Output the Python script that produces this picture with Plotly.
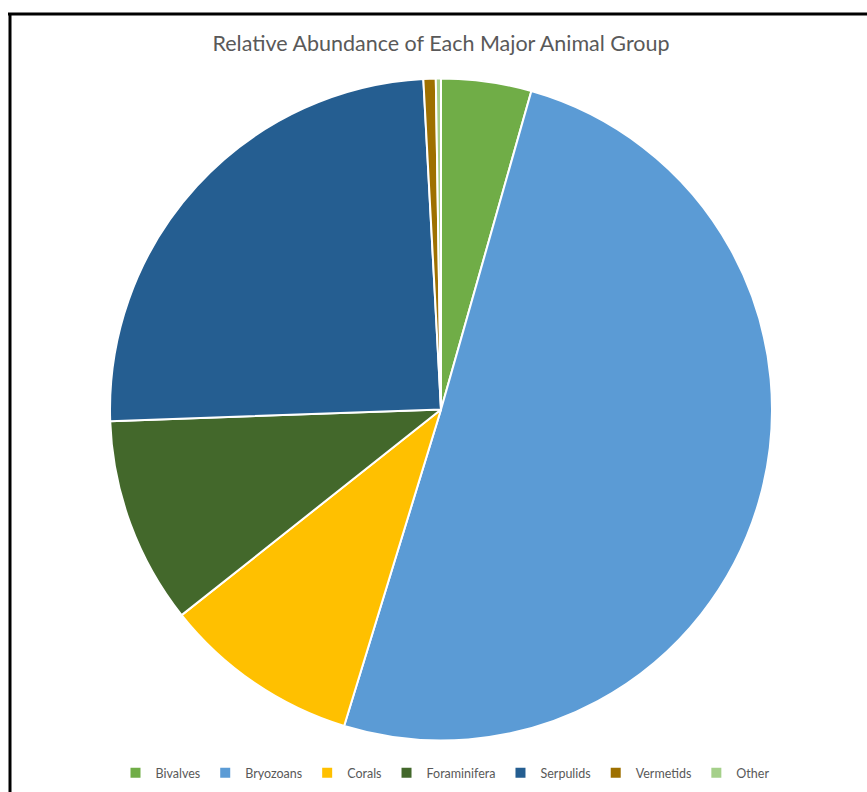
import plotly.graph_objects as go

# Relative abundance (%) of each major animal group
groups = ["Bivalves", "Bryozoans", "Corals", "Foraminifera", "Serpulids", "Vermetids", "Other"]
abundance = [4.4, 50.3, 9.6, 10.1, 24.7, 0.6, 0.25]
colors = ["#70AD47", "#5B9BD5", "#FFC000", "#43682B", "#255E91", "#9E7000", "#A5D08A"]

W, H = 867, 792

fig = go.Figure(
    go.Pie(
        labels=groups,
        values=abundance,
        sort=False,
        direction="clockwise",
        rotation=0,
        marker=dict(colors=colors, line=dict(color="white", width=2)),
        textinfo="none",
        hoverinfo="label+percent",
        domain=dict(x=[110 / W, 772 / W], y=[1 - 741 / H, 1 - 78 / H]),
    )
)

fig.update_layout(
    width=W,
    height=H,
    margin=dict(l=0, r=0, t=0, b=0),
    paper_bgcolor="white",
    plot_bgcolor="white",
    font=dict(family="Lato, 'Open Sans', sans-serif", color="#595959"),
    title=dict(
        text="Relative Abundance of Each Major Animal Group",
        x=441 / W,
        xanchor="center",
        y=1 - 43 / H,
        yanchor="middle",
        font=dict(size=21.5, color="#595959"),
    ),
    legend=dict(
        orientation="h",
        x=445 / W,
        xanchor="center",
        y=1 - 773 / H,
        yanchor="middle",
        font=dict(size=12.5, color="#595959"),
        itemwidth=30,
        traceorder="normal",
    ),
    shapes=[
        dict(type="line", xref="paper", yref="paper",
             x0=8 / W, x1=1, y0=1 - 14 / H, y1=1 - 14 / H,
             line=dict(color="black", width=3)),
        dict(type="line", xref="paper", yref="paper",
             x0=10 / W, x1=10 / W, y0=0, y1=1 - 13 / H,
             line=dict(color="black", width=3)),
    ],
)

fig.write_html("out.html")
